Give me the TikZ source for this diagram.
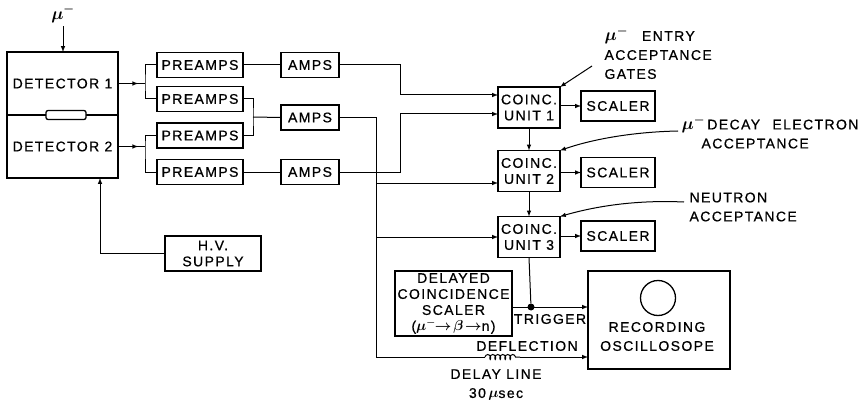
\documentclass[tikz,border=0pt]{standalone}
\usepackage{fontspec}
\setmainfont[LetterSpace=10, FakeBold=0.7]{Liberation Sans}
\usetikzlibrary{arrows, positioning, decorations.pathmorphing, decorations.markings}
\newcommand{\muon}{{\boldmath$\mu^{-}$}}
\tikzset{
  box/.style={rectangle, draw, line width=1.3pt, inner sep=0pt, outer sep=0pt},
  preamp/.style={box, minimum width=86pt, minimum height=25pt},
  amp/.style={box, minimum width=58pt, minimum height=25pt},
  coinc/.style={box, minimum width=62pt, minimum height=41pt},
  scaler/.style={box, minimum width=74pt, minimum height=30pt},
  wire/.style={line width=1pt},
  sig/.style={wire, -latex},
  tipat/.style={wire, decoration={markings, mark=at position #1 with {\arrow{latex}}}, postaction={decorate}},
}
\begin{document}
\begin{tikzpicture}[x=1pt, y=-1pt, every node/.style={font=\fontsize{14}{19}\selectfont, align=center}]
\useasboundingbox (0,0) rectangle (862,401);
% detectors
\node (det1) [box, minimum width=111pt, minimum height=63pt] at (62.5,83.5) {DETECTOR 1};
\node (det2) [box, minimum width=111pt, minimum height=63pt, below=0pt of det1] {DETECTOR 2};
\node (tube) [box, fill=white, rounded corners=2pt, minimum width=40pt, minimum height=9pt] at (66,115) {};
\node (muin) [font=\fontsize{18}{19}\selectfont] at (63,14) {\muon};
\node (hv) [box, minimum width=96pt, minimum height=35pt] at (213,253.5) {H.V.\\[-3pt] SUPPLY};
% preamps and amps
\node (preA) [preamp] at (200,65) {PREAMPS};
\node (preB) [preamp] at (200,99) {PREAMPS};
\node (preC) [preamp] at (200,135.5) {PREAMPS};
\node (preD) [preamp] at (200,172) {PREAMPS};
\node (ampA) [amp, right=38pt of preA] {AMPS};
\node (ampB) [amp] at (310,117.5) {AMPS};
\node (ampC) [amp, right=38pt of preD] {AMPS};
% coincidence units
\node (unitA) [coinc] at (529,107.5) {COINC.\\[-3pt] UNIT 1};
\node (unitB) [coinc] at (529,171) {COINC.\\[-3pt] UNIT 2};
\node (unitC) [coinc] at (529,237) {COINC.\\[-3pt] UNIT 3};
\node (scalA) [scaler] at (618,106) {SCALER};
\node (scalB) [scaler] at (618,172.5) {SCALER};
\node (scalC) [scaler] at (618,236) {SCALER};
% lower part
\node (delayed) [box, minimum width=117pt, minimum height=65pt] at (453.5,303.5) {DELAYED\\[-3pt] COINCIDENCE\\[-3pt] SCALER\\[-3pt] ({\boldmath$\mu^{-}\!\!\rightarrow\!\beta\!\rightarrow$}n)};
\node (scope) [box, minimum width=142pt, minimum height=98pt] at (659,320) {};
\node (screen) [circle, draw, line width=1.3pt, minimum size=35pt, inner sep=0pt] at (658,298) {};
\node (scopetxt) at (657,336.5) {RECORDING\\ OSCILLOSOPE};
\node (trig) [circle, fill=black, minimum size=7pt, inner sep=0pt] at (531,307) {};
\node (trigtxt) at (550,319) {TRIGGER};
\node (defl) at (527,346) {DEFLECTION};
\node (dline) at (496,385) {DELAY LINE\\ 30\,{\boldmath$\mu$}sec};
% notes
\node (noteA) [anchor=west, align=left] at (601,53) {{\fontsize{18}{19}\selectfont\muon}\hspace{14pt}ENTRY\\ACCEPTANCE\\GATES};
\node (noteB) [anchor=west, align=left] at (678,132) {{\fontsize{18}{19}\selectfont\muon}\,DECAY\hspace{7pt} ELECTRON\\\hspace*{20pt}ACCEPTANCE};
\node (noteC) [anchor=west, align=left] at (686,207) {NEUTRON\\ACCEPTANCE};

\coordinate (jA) at (145,84);
\coordinate (jB) at (145,146);
\coordinate (jC) at (253,117);
\coordinate (hvin) at (100,178);
\coordinate (busA) at (400,95);
\coordinate (busB) at (400,114);
\coordinate (busC) at (376,183);
\coordinate (bus) at (376,117);
\coordinate (lineA) at (485,357);
\coordinate (lineB) at (520,357);
\coordinate (tailA) at (592,66);
\coordinate (tailB) at (678,131);
\coordinate (tailC) at (684,202);

\draw[sig] (muin.south) -- (det1.north -| muin);
\draw[sig] (hv.west) -| (hvin);
\draw[tipat=0.75] (det1.east) -- (det1.east -| jA);
\draw[tipat=0.75] (det2.east) -- (det2.east -| jB);
\draw[wire] (preA.west) -| (jA) |- (preB.west);
\draw[wire] (preC.west) -| (jB) |- (preD.west);
\draw[wire] (preB.east) -| (jC) |- (preC.east);
\draw[wire] (jC) -- (ampB.west);
\draw[wire] (preA.east) -- (ampA.west);
\draw[wire] (preD.east) -- (ampC.west);
\draw[sig] (ampA.east) -| (busA) -- (busA -| unitA.west);
\draw[sig] (ampC.east) -| (busB) -- (busB -| unitA.west);
\draw[wire] (ampB.east) -| (bus |- lineA) -- (lineA);
\draw[sig] (busC) -- (busC -| unitB.west);
\draw[sig] (bus |- unitC.west) -- (unitC.west);
\draw[sig] (unitA.south) -- (unitB.north);
\draw[sig] (unitB.south) -- (unitC.north);
\draw[wire] (unitC.south) -- (trig);
\draw[sig] (unitA.east |- scalA.west) -- (scalA.west);
\draw[sig] (unitB.east |- scalB.west) -- (scalB.west);
\draw[sig] (unitC.east |- scalC.west) -- (scalC.west);
\draw[sig] (delayed.east |- trig) -- (scope.west |- trig);
\draw[wire, decorate, decoration={coil, aspect=0.6, segment length=5pt, amplitude=2.5pt}] (lineA) -- (lineB);
\draw[sig] (lineB) -- (scope.west |- lineB);
\draw[sig] (tailA) -- (unitA.north east);
\draw[sig] (tailB) .. controls (630,132) and (590,140) .. (unitB.north east);
\draw[sig] (tailC) .. controls (640,200) and (600,205) .. (unitC.north east);
\end{tikzpicture}
\end{document}
